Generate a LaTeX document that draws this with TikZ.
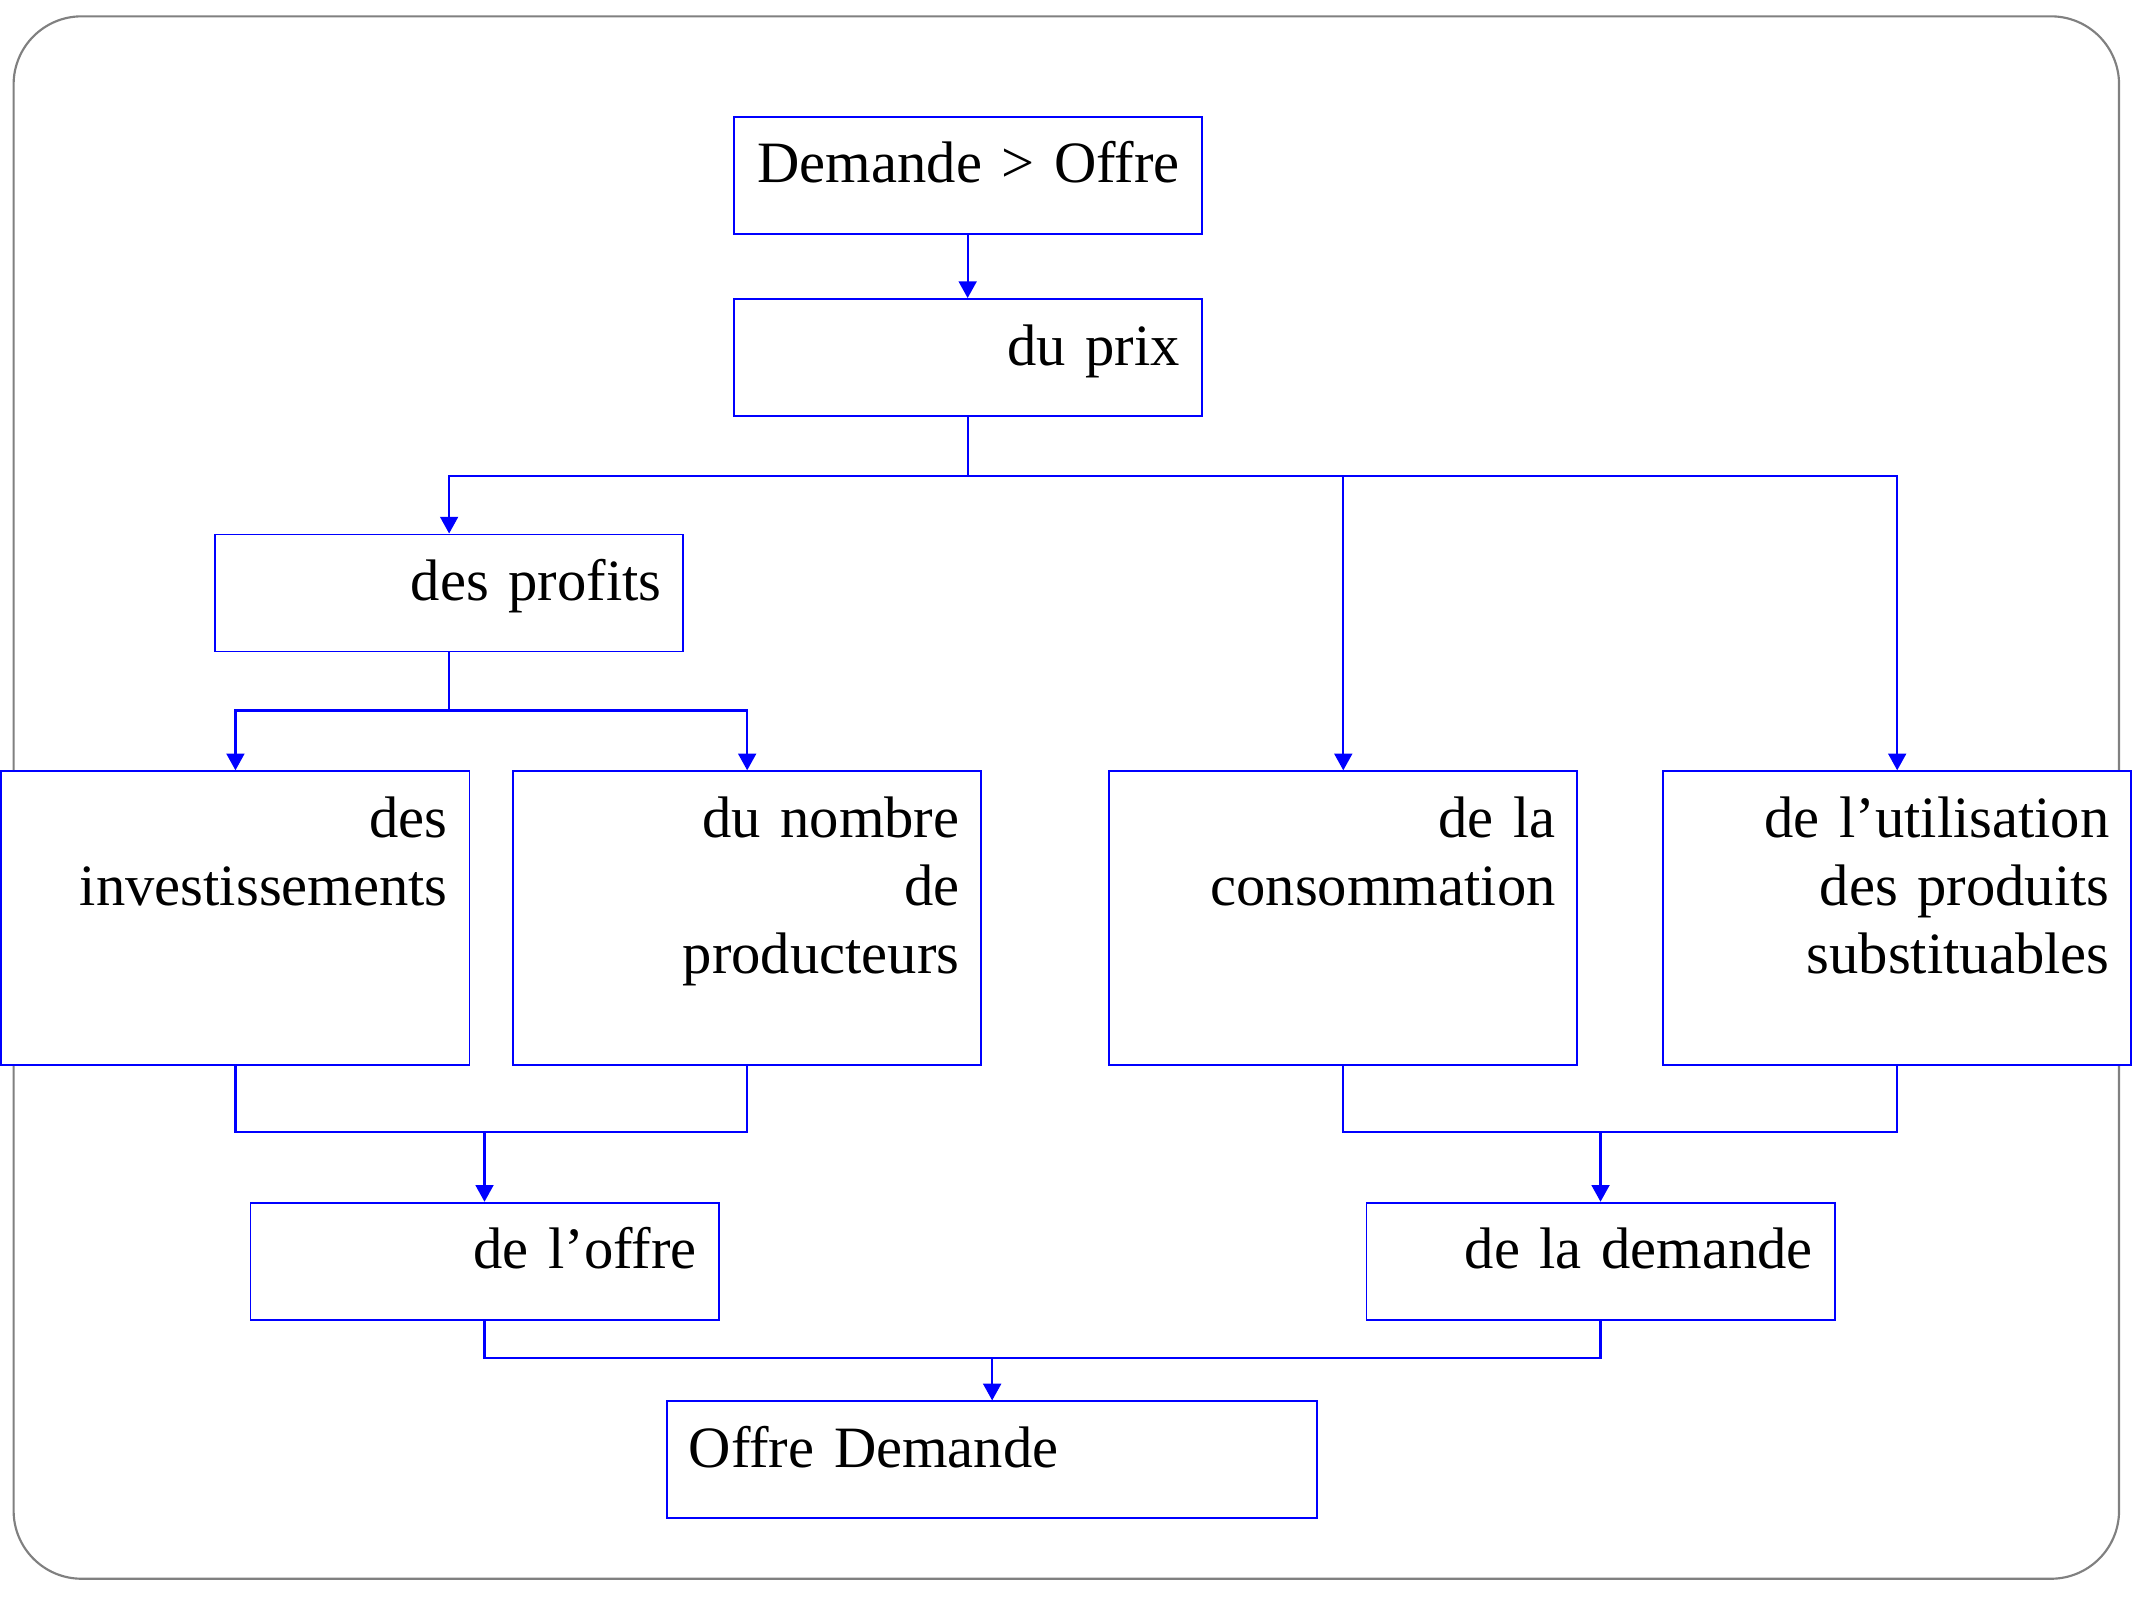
\documentclass[tikz,border=0pt]{standalone}
\usepackage{fontspec}
\setmainfont{Liberation Serif}
\usetikzlibrary{arrows.meta}
\tikzstyle{box} = [rectangle, anchor=north, draw=blue, line width=0.8pt, fill=white,
inner xsep=0.32cm, inner ysep=0pt,
text width=6.24cm, align=right,
text height=0.97cm, text depth=0.75cm]
\tikzstyle{tallbox} = [box, text depth=3.35cm]
\tikzstyle{widebox} = [box, text width=8.92cm, align=left]
\tikzstyle{line} = [draw=blue, line width=0.9pt]
\tikzstyle{arrow} = [line, -{Triangle[length=7pt,width=7.5pt]}]

\begin{document}
\begin{tikzpicture}[x=0.02cm, y=-0.02cm, font=\fontsize{24.5}{28.5}\selectfont]
\useasboundingbox (0,0) rectangle (1568,1176);
\draw[gray, line width=0.9pt, rounded corners=1cm] (10,12) rectangle (1557,1160);

\node (dem) [box] at (711,85) {Demande > Offre};
\node (prix) [box] at (711,219) {du prix};
\node (profits) [box] at (330,392) {des profits};
\node (invest) [tallbox] at (173,566) {des\\investissements};
\node (nombre) [tallbox] at (549,566) {du nombre\\de\\producteurs};
\node (conso) [tallbox] at (987,566) {de la\\consommation};
\node (util) [tallbox] at (1394,566) {de l’utilisation\\des produits\\substituables};
\node (offre) [box] at (356,883) {de l’offre};
\node (demande) [box] at (1176,883) {de la demande};
\node (final) [widebox] at (729,1029) {Offre Demande};

\coordinate (s1) at (711,350);
\coordinate (s2) at (330,522);
\coordinate (j1) at (356,832);
\coordinate (j2) at (1176,832);
\coordinate (j3) at (729,998);

\draw [arrow] (dem) -- (prix);
\draw [line] (prix.south) -- (s1);
\draw [arrow] (s1) -| (profits.north);
\draw [arrow] (s1) -| (conso.north);
\draw [arrow] (s1) -| (util.north);

\draw [line] (profits.south) -- (s2);
\draw [arrow] (s2) -| (invest.north);
\draw [arrow] (s2) -| (nombre.north);

\draw [line] (invest.south) |- (j1);
\draw [line] (nombre.south) |- (j1);
\draw [arrow] (j1) -- (offre.north);
\draw [line] (conso.south) |- (j2);
\draw [line] (util.south) |- (j2);
\draw [arrow] (j2) -- (demande.north);

\draw [line] (offre.south) |- (j3);
\draw [line] (demande.south) |- (j3);
\draw [arrow] (j3) -- (final.north);

\end{tikzpicture}
\end{document}
